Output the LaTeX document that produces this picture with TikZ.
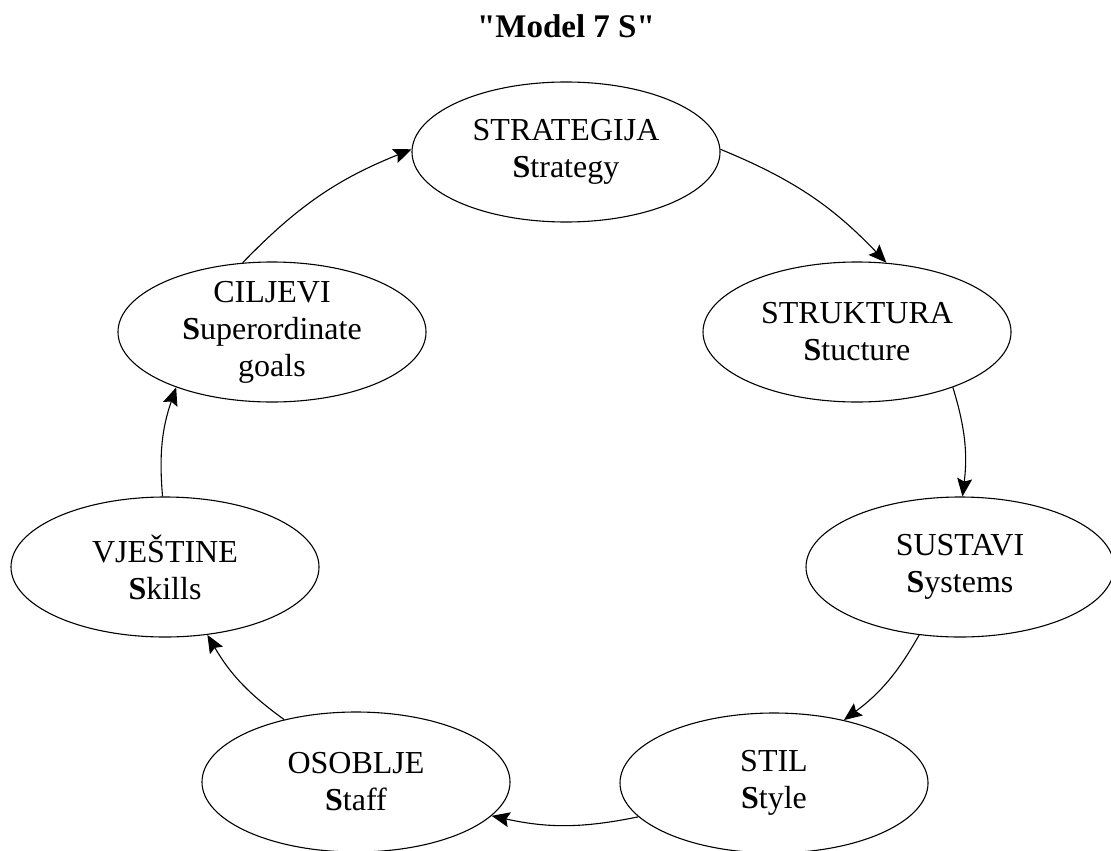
\documentclass[tikz,border=0pt]{standalone}
\usepackage{fontspec}
\setmainfont{Liberation Serif}
\usetikzlibrary{shapes, arrows.meta}

\begin{document}
\begin{tikzpicture}[
            x=0.5pt, y=-0.5pt,
            font=\fontsize{16}{18.5}\selectfont,
            sel/.style={ellipse, draw, line width=0.55pt, minimum width=154pt, minimum height=70pt, inner sep=0pt, align=center},
            link/.style={-{Stealth[length=9pt, width=7.5pt, inset=1.5pt]}, line width=0.55pt, bend left=12},
        ]
            \useasboundingbox (0,0) rectangle (1111,850);
            % title
            \node[font=\fontsize{16.5}{20}\selectfont\bfseries, anchor=base] (title) at (566,38) {\textquotedbl Model 7 S\textquotedbl};
            % the seven S
            \node[sel] (strategija) at (566,152) {STRATEGIJA\\\textbf{S}trategy};
            \node[sel] (struktura) at (857,332) {STRUKTURA\\\textbf{S}tucture};
            \node[sel] (sustavi) at (960,567) {SUSTAVI\\\textbf{S}ystems};
            \node[sel] (stil) at (774,783) {STIL\\\textbf{S}tyle};
            \node[sel] (osoblje) at (356,782) {OSOBLJE\\\textbf{S}taff};
            \node[sel] (vjestine) at (165,567) {VJEŠTINE\\\textbf{S}kills};
            \node[sel, inner ysep=-3pt] (ciljevi) at (272,332) {CILJEVI\\\textbf{S}uperordinate\\goals};
            % cycle
            \draw[link] (strategija.1) to (struktura.67);
            \draw[link] (struktura.-30) to (sustavi.88);
            \draw[link] (sustavi.-121) to (stil.42);
            \draw[link] (stil.-166) to (osoblje.-14);
            \draw[link] (osoblje.139) to (vjestine.-58);
            \draw[link] (vjestine.92) to (ciljevi.-150);
            \draw[link] (ciljevi.113) to (strategija.179);
\end{tikzpicture}
\end{document}
